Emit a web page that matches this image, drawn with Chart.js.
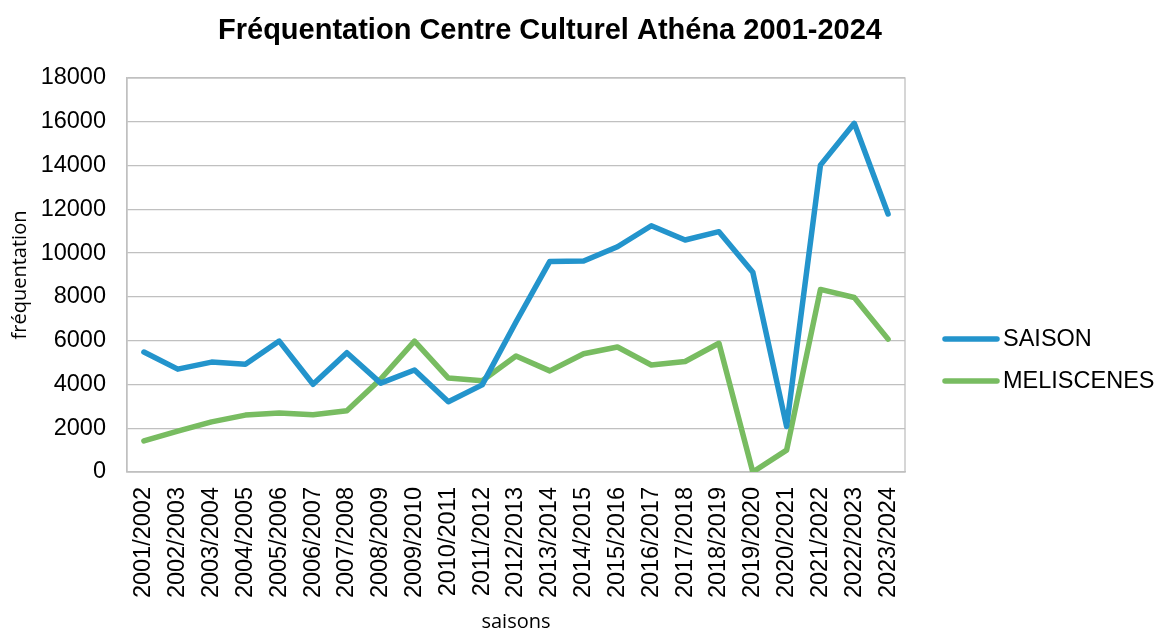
<!DOCTYPE html>
<html>
<head>
<meta charset="utf-8">
<script src="https://cdn.jsdelivr.net/npm/chart.js@4/dist/chart.umd.min.js"></script>
<style>
  html, body { margin: 0; padding: 0; background: #fff; }
  #wrap { width: 1157px; height: 634px; }
</style>
</head>
<body>
<div id="wrap"><canvas id="chart" width="1157" height="634"></canvas></div>
<script>
const saisons = [
  "2001/2002", "2002/2003", "2003/2004", "2004/2005", "2005/2006", "2006/2007",
  "2007/2008", "2008/2009", "2009/2010", "2010/2011", "2011/2012", "2012/2013",
  "2013/2014", "2014/2015", "2015/2016", "2016/2017", "2017/2018", "2018/2019",
  "2019/2020", "2020/2021", "2021/2022", "2022/2023", "2023/2024"
];
const saison = [
  5480, 4700, 5020, 4920, 5980, 4010, 5450, 4060, 4660, 3210, 3980, 6850,
  9620, 9640, 10290, 11250, 10600, 10980, 9130, 2080, 14020, 15930, 11790
];
const meliscenes = [
  1420, 1870, 2290, 2600, 2700, 2620, 2800, 4250, 5980, 4290, 4170, 5300,
  4620, 5400, 5710, 4890, 5050, 5880, 0, 1000, 8340, 7970, 6070
];
const yTicksMax = 18000;
const yStep = 2000;
const chartTitle = "Fréquentation Centre Culturel Athéna 2001-2024";

const gridColor = "#c0c0c0";
const font = "'Liberation Sans', Arial, sans-serif";

// title + legend drawn by hand so they sit where the original has them
const extras = {
  id: "extras",
  beforeDatasetsDraw(chart) {
    const { ctx, chartArea: a } = chart;
    ctx.save();
    ctx.strokeStyle = gridColor;
    ctx.lineWidth = 1.3;
    ctx.strokeRect(a.left, a.top, a.right - a.left, a.bottom - a.top);
    ctx.restore();
  },
  afterDraw(chart) {
    const ctx = chart.ctx;
    ctx.save();
    ctx.fillStyle = "#000";
    ctx.font = "bold 29px " + font;
    ctx.textAlign = "center";
    ctx.textBaseline = "alphabetic";
    ctx.fillText(chartTitle, 550, 39);

    const rows = [339, 381];
    chart.data.datasets.forEach((ds, i) => {
      const y = rows[i];
      ctx.strokeStyle = ds.borderColor;
      ctx.lineWidth = 5.5;
      ctx.lineCap = "round";
      ctx.beginPath();
      ctx.moveTo(945, y);
      ctx.lineTo(997, y);
      ctx.stroke();
      ctx.fillStyle = "#000";
      ctx.font = "23.5px " + font;
      ctx.textAlign = "left";
      ctx.textBaseline = "middle";
      ctx.fillText(ds.label, 1003, y + 1);
    });
    ctx.restore();
  }
};

new Chart(document.getElementById("chart"), {
  type: "line",
  data: {
    labels: saisons,
    datasets: [
      {
        label: "SAISON",
        data: saison,
        borderColor: "#2394cc",
        backgroundColor: "#2394cc",
        borderWidth: 5.5,
        pointRadius: 0,
        tension: 0,
        borderJoinStyle: "round",
        borderCapStyle: "round",
      },
      {
        label: "MELISCENES",
        data: meliscenes,
        borderColor: "#78bc61",
        backgroundColor: "#78bc61",
        borderWidth: 5.5,
        pointRadius: 0,
        tension: 0,
        borderJoinStyle: "round",
        borderCapStyle: "round",
      },
    ],
  },
  options: {
    responsive: false,
    animation: false,
    layout: {
      padding: { top: 78, right: 252, left: 0, bottom: 0 },
    },
    scales: {
      x: {
        offset: true,
        grid: { display: false, drawTicks: false },
        border: { display: true, color: gridColor, width: 1.3 },
        ticks: {
          color: "#000",
          font: { family: font, size: 23.5 },
          minRotation: 90,
          maxRotation: 90,
          autoSkip: false,
          padding: 15,
        },
        title: {
          display: true,
          text: "saisons",
          color: "#000",
          font: { family: "'Open Sans', sans-serif", size: 20 },
          padding: { top: 0, bottom: 0 },
        },
        afterFit(scale) {
          scale.height = 634 - 472;
        },
      },
      y: {
        min: 0,
        max: yTicksMax,
        grid: { color: gridColor, lineWidth: 1.3, drawTicks: false },
        border: { display: true, color: gridColor, width: 1.3 },
        ticks: {
          stepSize: yStep,
          color: "#000",
          font: { family: font, size: 23.5 },
          padding: 21,
          callback: (v) => String(v),
        },
        title: {
          display: true,
          text: "fréquentation",
          color: "#000",
          font: { family: "'Open Sans', sans-serif", size: 20 },
          padding: { top: 8, bottom: 0 },
        },
        afterFit(scale) {
          scale.width = 127;
        },
      },
    },
    plugins: {
      legend: { display: false },
      title: { display: false },
      tooltip: { enabled: false },
    },
  },
  plugins: [extras],
});
</script>
</body>
</html>
